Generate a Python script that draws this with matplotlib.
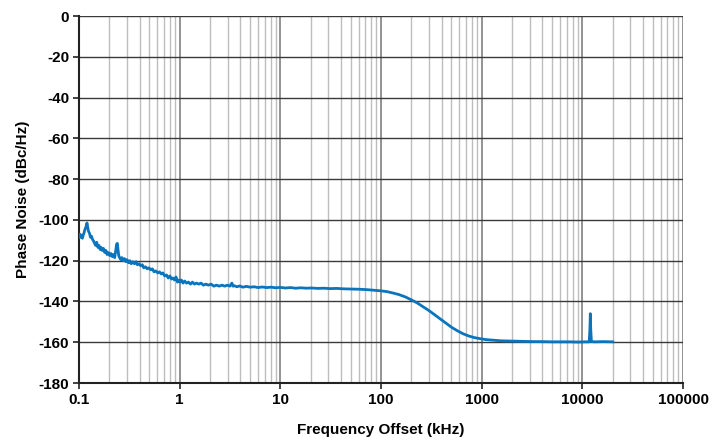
import matplotlib
matplotlib.use("Agg")
import matplotlib.pyplot as plt
from matplotlib.ticker import FixedLocator, LogLocator, NullFormatter

plt.rcParams['font.family'] = ['Liberation Sans', 'DejaVu Sans']
plt.rcParams['font.weight'] = 'bold'
plt.rcParams['axes.unicode_minus'] = False

# Phase noise trace (kHz, dBc/Hz)
freq_khz = [0.100, 0.102, 0.104, 0.106, 0.108, 0.110, 0.112, 0.114, 0.116, 0.118,
            0.120, 0.122, 0.124, 0.127, 0.130, 0.133, 0.136, 0.140, 0.143, 0.146,
            0.150, 0.154, 0.158, 0.162, 0.166, 0.170, 0.175, 0.180, 0.185, 0.190,
            0.196, 0.202, 0.208, 0.214, 0.220, 0.226, 0.231, 0.236, 0.240, 0.244,
            0.248, 0.253, 0.260, 0.267, 0.275, 0.283, 0.292, 0.300, 0.310, 0.320,
            0.330, 0.342, 0.355, 0.368, 0.380, 0.395, 0.410, 0.425, 0.440, 0.458,
            0.476, 0.495, 0.515, 0.535, 0.557, 0.580, 0.605, 0.630, 0.655, 0.680,
            0.710, 0.740, 0.770, 0.800, 0.830, 0.860, 0.890, 0.920, 0.950, 0.980,
            1.01, 1.04, 1.08, 1.12, 1.17, 1.22, 1.28, 1.34, 1.40, 1.47,
            1.55, 1.63, 1.72, 1.82, 1.93, 2.05, 2.18, 2.32, 2.47, 2.63,
            2.80, 2.98, 3.15, 3.30, 3.38, 3.50, 3.70, 3.95, 4.25, 4.60,
            5.00, 5.50, 6.00, 6.60, 7.30, 8.10, 9.00, 10.0, 11.2, 12.6,
            14.2, 16.0, 18.0, 20.5, 23.5, 27.0, 31.0, 36.0, 42.0, 50.0,
            60.0, 72.0, 86.0, 100, 115, 130, 150, 175, 200, 230,
            260, 300, 340, 390, 440, 500, 570, 650, 740, 840,
            950, 1100, 1300, 1550, 1850, 2200, 2700, 3300, 4000, 5000,
            6200, 7600, 9000, 10500, 11700, 11900, 12000, 12100, 12300, 13500,
            16000, 18500, 20000]
noise_dbc = [-108.5, -107.0, -108.5, -107.5, -109.0, -107.5, -106.5, -105.0, -104.0, -103.0,
             -101.5, -103.5, -105.5, -106.5, -108.5, -108.0, -109.5, -110.5, -111.5, -112.5,
             -111.0, -113.5, -112.5, -114.5, -113.5, -115.0, -114.0, -116.0, -115.0, -117.0,
             -116.0, -117.5, -116.5, -118.0, -117.0, -118.5, -115.5, -112.0, -111.5, -114.5,
             -117.5, -118.5, -119.5, -118.5, -120.0, -119.0, -120.5, -119.5, -121.0, -120.0,
             -121.5, -120.5, -121.5, -120.5, -122.0, -121.5, -122.5, -122.0, -123.5, -123.0,
             -124.0, -123.5, -124.5, -124.0, -125.5, -125.0, -126.0, -125.5, -126.5, -126.0,
             -127.5, -127.0, -128.5, -127.5, -129.0, -128.5, -129.5, -128.0, -130.5, -129.5,
             -130.5, -129.5, -131.0, -130.0, -131.0, -130.5, -131.5, -130.5, -131.5, -131.0,
             -131.5, -131.0, -132.0, -131.5, -132.0, -131.5, -132.5, -132.0, -132.5, -132.0,
             -132.5, -132.0, -132.5, -131.0, -132.5, -132.3, -132.8, -132.4, -133.0, -132.6,
             -133.0, -132.8, -133.2, -132.9, -133.2, -133.0, -133.3, -133.1, -133.4, -133.2,
             -133.5, -133.3, -133.5, -133.4, -133.6, -133.5, -133.7, -133.6, -133.8, -133.9,
             -134.0, -134.2, -134.5, -134.8, -135.2, -135.8, -136.6, -137.8, -139.2, -140.8,
             -142.5, -144.5, -146.5, -148.7, -150.6, -152.6, -154.3, -155.8, -156.9, -157.7,
             -158.2, -158.7, -159.0, -159.3, -159.4, -159.5, -159.6, -159.7, -159.7, -159.8,
             -159.8, -159.8, -159.9, -159.8, -159.8, -153.0, -146.0, -153.0, -159.7, -159.8,
             -159.7, -159.8, -159.8]

x_ticks = [0.1, 1, 10, 100, 1000, 10000, 100000]
x_labels = ['0.1', '1', '10', '100', '1000', '10000', '100000']
y_ticks = [0, -20, -40, -60, -80, -100, -120, -140, -160, -180]

fig = plt.figure(figsize=(7.17, 4.41), dpi=100)
ax = fig.add_axes([0.1102, 0.1315, 0.8424, 0.8322])

ax.plot(freq_khz, noise_dbc, color='#0a74bd', linewidth=2.0, zorder=3)

ax.set_xscale('log')
ax.set_xlim(0.1, 100000)
ax.set_ylim(-180, 0)

ax.xaxis.set_major_locator(FixedLocator(x_ticks))
ax.set_xticklabels(x_labels)
ax.xaxis.set_minor_locator(LogLocator(base=10, subs=range(2, 10), numticks=20))
ax.xaxis.set_minor_formatter(NullFormatter())
ax.set_yticks(y_ticks)

# grid: dark majors, light minors
ax.grid(which='major', axis='y', color='#3a3a3a', linewidth=1.0)
ax.grid(which='major', axis='x', color='#8a8a8a', linewidth=1.3)
ax.grid(which='minor', axis='x', color='#bdbdbd', linewidth=1.0)
ax.set_axisbelow(True)

for side in ['top', 'right']:
    ax.spines[side].set_visible(False)
for side in ['left', 'bottom']:
    ax.spines[side].set_color('#222222')
    ax.spines[side].set_linewidth(1.5)

ax.tick_params(which='major', direction='out', length=4, width=1.2, color='#222222',
               labelsize=11, pad=3)
ax.tick_params(which='minor', length=0)
for lab in ax.get_xticklabels() + ax.get_yticklabels():
    lab.set_fontweight('bold')

ax.set_xlabel('Frequency Offset (kHz)', fontsize=11, fontweight='bold', labelpad=12)
ax.set_ylabel('Phase Noise (dBc/Hz)', fontsize=11, fontweight='bold', labelpad=6)

fig.savefig('out.png', dpi=100)
